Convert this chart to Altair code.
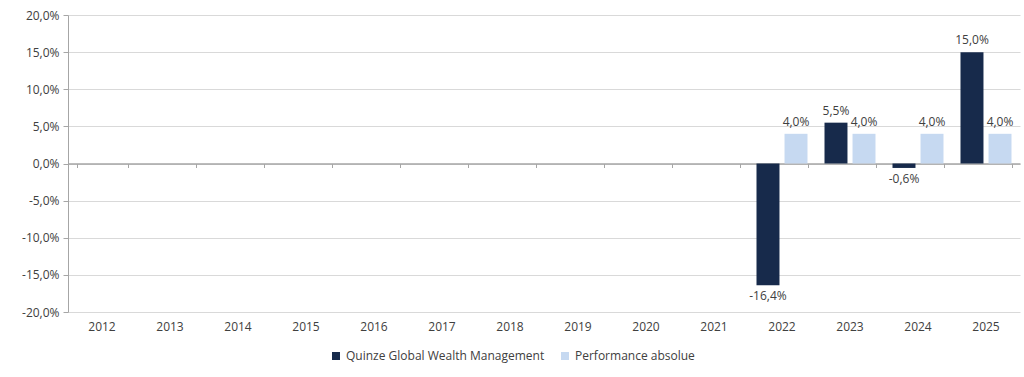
import altair as alt
import pandas as pd

years = [str(y) for y in range(2012, 2026)]
data_years = ["2022", "2023", "2024", "2025"]
fund = [-16.4, 5.5, -0.6, 15.0]
bench = [4.0, 4.0, 4.0, 4.0]
series = ["Quinze Global Wealth Management", "Performance absolue"]
colors = ["#172a4b", "#c6d9f1"]
y_ticks = [-20, -15, -10, -5, 0, 5, 10, 15, 20]

rows = []
for yr, f, b in zip(data_years, fund, bench):
    for s, v in zip(series, [f, b]):
        rows.append({"year": yr, "series": s, "value": v,
                     "label": f"{v:.1f}".replace(".", ",") + "%"})
df = pd.DataFrame(rows)

FONT = "Open Sans"
FS = 12
TXT = "#404040"
W, H = 952, 297

xscale = alt.Scale(domain=years, paddingInner=0.25, paddingOuter=0.125)
yscale = alt.Scale(domain=[-20, 20], nice=False)
xoff = alt.XOffset("series:N", scale=alt.Scale(domain=series, paddingInner=0.18, paddingOuter=0))

ylabel = "(datum.value < 0 ? '-' : '') + replace(format(abs(datum.value), '.1f'), '.', ',') + '%'"
yaxis = alt.Axis(title=None, values=y_ticks, labelExpr=ylabel, grid=True,
                 labelOverlap=False, gridColor="#d9d9d9", domainColor="#a6a6a6",
                 tickColor="#a6a6a6", tickSize=5, labelPadding=4, labelFont=FONT,
                 labelFontSize=FS, labelColor=TXT)
Y = alt.Y("value:Q", scale=yscale, axis=yaxis)

bars = alt.Chart(df).mark_bar().encode(
    x=alt.X("year:N", scale=xscale,
            axis=alt.Axis(orient="bottom", title=None, domain=False, ticks=False,
                          labelPadding=9, labelAngle=0, labelFont=FONT,
                          labelFontSize=FS, labelColor=TXT)),
    xOffset=xoff,
    y=Y,
    color=alt.Color("series:N", scale=alt.Scale(domain=series, range=colors),
                    legend=alt.Legend(title=None, orient="none", direction="horizontal",
                                      legendX=262, legendY=335,
                                      symbolType="square", symbolSize=64, symbolStrokeWidth=0,
                                      labelFont=FONT, labelFontSize=FS, labelColor=TXT,
                                      labelLimit=400, columnPadding=14, labelOffset=4)),
)

pos_text = alt.Chart(df).transform_filter("datum.value >= 0").mark_text(
    baseline="bottom", dy=-5, font=FONT, fontSize=FS, color=TXT
).encode(
    x=alt.X("year:N", scale=xscale, axis=None),
    xOffset=xoff,
    y=Y,
    text="label:N",
)

neg_text = alt.Chart(df).transform_filter("datum.value < 0").mark_text(
    baseline="top", dy=6, font=FONT, fontSize=FS, color=TXT
).encode(
    x=alt.X("year:N", scale=xscale, axis=None),
    xOffset=xoff,
    y=Y,
    text="label:N",
)

zero_axis = alt.Chart(df).mark_point(opacity=0).encode(
    x=alt.X("year:N", scale=xscale,
            axis=alt.Axis(orient="bottom", offset=-H / 2, labels=False, title=None,
                          domainColor="#a6a6a6", domainWidth=1.5, tickColor="#a6a6a6",
                          tickSize=4, tickBand="extent", grid=False)),
    y=Y,
)

chart = alt.layer(bars, zero_axis, pos_text, neg_text).resolve_axis(
    x="independent"
).properties(
    width=W, height=H,
    autosize=alt.AutoSizeParams(type="none"),
    padding={"left": 68, "top": 15, "right": 4, "bottom": 65},
).configure(background="white").configure_view(stroke=None)

chart.save("out.html", embed_options={"renderer": "svg", "actions": False})
